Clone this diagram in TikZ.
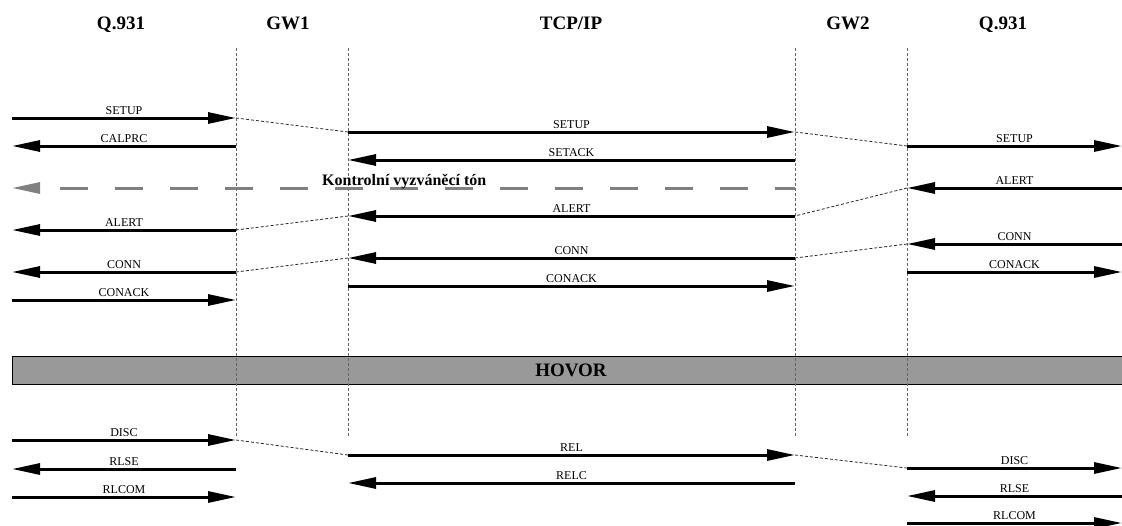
\documentclass[tikz,border=0pt]{standalone}
\usepackage{fontspec}
\setmainfont{Liberation Serif}
\usetikzlibrary{arrows.meta}
\definecolor{lifegray}{HTML}{666666}
\definecolor{tonegray}{HTML}{808080}
\definecolor{barfill}{HTML}{999999}
\tikzset{
  msg/.style={line width=3pt, -{Triangle[length=28pt,width=11pt]}},
  lbl/.style={font=\fontsize{12}{12}\selectfont, inner sep=0pt, anchor=base, yshift=4pt},
  hdr/.style={font=\fontsize{19}{19}\selectfont\bfseries, inner sep=0pt, anchor=base},
  life/.style={lifegray, line width=1pt, dash pattern=on 3pt off 2pt},
  conn/.style={black!85, line width=0.8pt, dash pattern=on 3pt off 2pt},
  tone/.style={tonegray, line width=3pt, dash pattern=on 28pt off 27pt, dash phase=8pt, -{Triangle[length=28pt,width=11pt]}},
  bar/.style={draw=black, line width=0.8pt, fill=barfill, inner sep=0pt, minimum width=1115pt, minimum height=28pt, anchor=west},
}
\newcommand\mymsg[5]{%
  \coordinate (#1a) at (#2,#4);
  \coordinate (#1b) at (#3,#4);
  \draw[msg] (#1a) -- (#1b) node[lbl,midway] {#5};}
\begin{document}
\begin{tikzpicture}[x=1pt,y=-1pt]
\useasboundingbox (0,0) rectangle (1122,525);
% headers
\node[hdr] (h1) at (121,29) {Q.931};
\node[hdr] (h2) at (288,29) {GW1};
\node[hdr] (h3) at (571,29) {TCP/IP};
\node[hdr] (h4) at (848,29) {GW2};
\node[hdr] (h5) at (1003,29) {Q.931};
% call bar
\node[bar] (bar) at (12,370) {};
\node[hdr, anchor=center] (hovor) at (571,370) {HOVOR};
% lifelines
\coordinate (l1t) at (236,48); \coordinate (l1b) at (236,437);
\coordinate (l2t) at (348,48); \coordinate (l2b) at (348,437);
\coordinate (l3t) at (795,48); \coordinate (l3b) at (795,437);
\coordinate (l4t) at (907,48); \coordinate (l4b) at (907,437);
\draw[life] (l1t) -- (l1b);
\draw[life] (l2t) -- (l2b);
\draw[life] (l3t) -- (l3b);
\draw[life] (l4t) -- (l4b);
% left side
\mymsg{ls}{12}{236}{118}{SETUP}
\mymsg{lc}{236}{12}{146}{CALPRC}
\mymsg{la}{236}{12}{230}{ALERT}
\mymsg{ln}{236}{12}{272}{CONN}
\mymsg{lk}{12}{236}{300}{CONACK}
% middle
\mymsg{ms}{348}{795}{132}{SETUP}
\mymsg{mk}{795}{348}{160}{SETACK}
\mymsg{ma}{795}{348}{216}{ALERT}
\mymsg{mn}{795}{348}{258}{CONN}
\mymsg{mc}{348}{795}{286}{CONACK}
% right
\mymsg{rs}{907}{1122}{146}{SETUP}
\mymsg{ra}{1122}{907}{188}{ALERT}
\mymsg{rn}{1122}{907}{244}{CONN}
\mymsg{rk}{907}{1122}{272}{CONACK}
% ringing tone
\coordinate (ta) at (795,188);
\coordinate (tb) at (12,188);
\draw[tone] (ta) -- (tb);
\node[font=\fontsize{16}{16}\selectfont\bfseries, inner sep=0pt, anchor=base west] (tonelbl) at (322,185) {Kontrolní vyzváněcí tón};
% connectors
\draw[conn] (lsb) -- (msa);
\draw[conn] (msb) -- (rsa);
\draw[conn] (rab) -- (maa);
\draw[conn] (mab) -- (laa);
\draw[conn] (rnb) -- (mna);
\draw[conn] (mnb) -- (lna);
% release
\mymsg{ld}{12}{236}{440}{DISC}
\mymsg{lr}{236}{12}{469}{RLSE}
\mymsg{lm}{12}{236}{497}{RLCOM}
\mymsg{mr}{348}{795}{455}{REL}
\mymsg{mz}{795}{348}{483}{RELC}
\mymsg{rd}{907}{1122}{468}{DISC}
\mymsg{rr}{1122}{907}{496}{RLSE}
\mymsg{rm}{907}{1122}{523}{RLCOM}
\draw[conn] (ldb) -- (mra);
\draw[conn] (mrb) -- (rda);
\end{tikzpicture}
\end{document}
